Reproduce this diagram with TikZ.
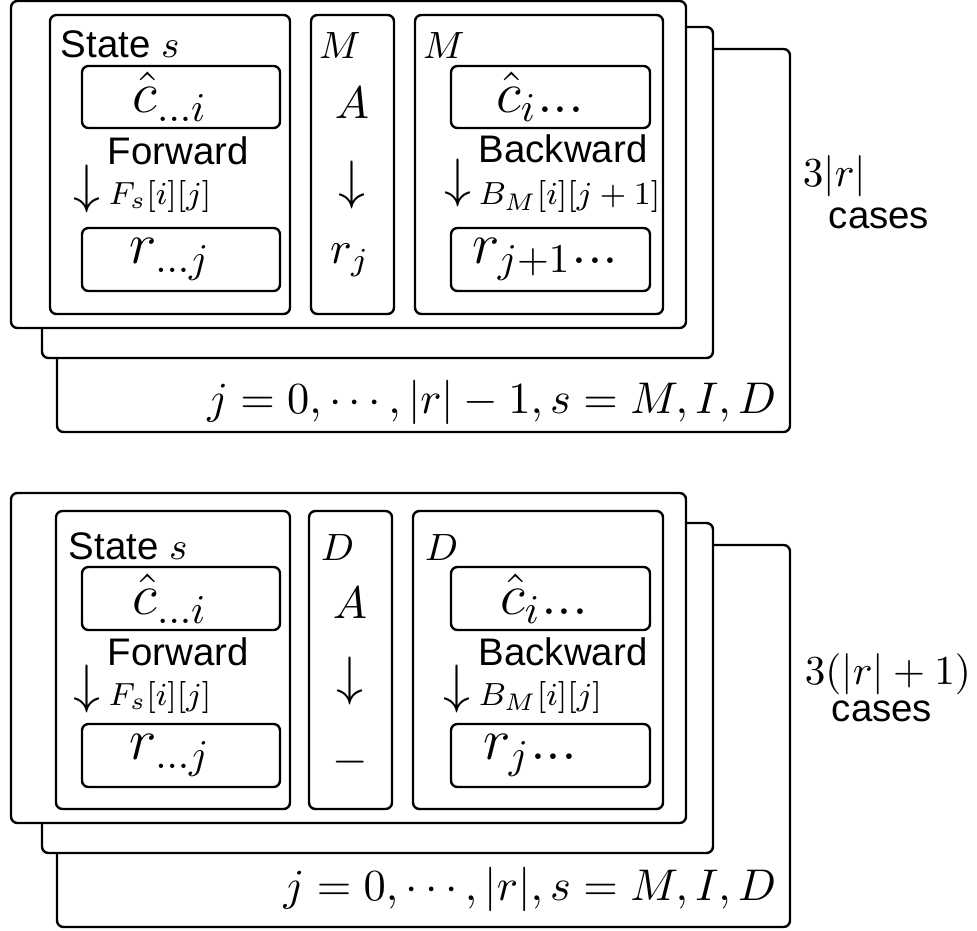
\RequirePackage{fix-cm}
\documentclass[tikz,border=0pt]{standalone}
\usepackage{fontspec}
\setsansfont{Liberation Sans}
\usetikzlibrary{fit}
\tikzset{
  panel/.style={draw, line width=0.6pt, rounded corners=1.6pt, fill=white, inner sep=0pt},
  sanslbl/.style={font=\fontsize{9.6}{11}\sffamily\selectfont, inner sep=0pt},
  boxmath/.style={font=\fontsize{14.6}{17}\selectfont, inner sep=0pt},
  midmath/.style={font=\fontsize{11.4}{13}\selectfont, inner sep=0pt},
  tagmath/.style={font=\fontsize{9.5}{11}\selectfont, inner sep=0pt},
  idxmath/.style={font=\fontsize{8}{10}\selectfont, inner sep=0pt},
  arrglyph/.style={font=\fontsize{13.5}{15}\selectfont, inner sep=0pt},
  rangemath/.style={font=\fontsize{11.1}{13}\selectfont, inner sep=0pt},
  countmath/.style={font=\fontsize{10.3}{12}\selectfont, inner sep=0pt},
}
\begin{document}
\begin{tikzpicture}[x=0.25pt, y=-0.25pt]
\useasboundingbox (0,0) rectangle (977,931);

% ---------------- top group ----------------
\node[panel, fit={(57,49) (790,432)}] (t3) {};
\node[panel, fit={(42,27) (713,358)}] (t2) {};
\node[panel, fit={(11,1) (686,328)}] (t1) {};
\node[panel, fit={(50,15) (290,314)}] (tstate) {};
\node[panel, fit={(311,15) (394,314)}] (tmid) {};
\node[panel, fit={(415,15) (663,314)}] (tback) {};
\node[panel, fit={(82,66) (280,128)}] (tfc) {};
\node[panel, fit={(82,228) (280,291)}] (tfr) {};
\node[panel, fit={(451,66) (650,128)}] (tbc) {};
\node[panel, fit={(451,228) (650,291)}] (tbr) {};

\node[boxmath] (tfct) at ([xshift=-2.75pt]tfc.center) {$\hat{c}_{...i}$};
\node[boxmath] (tfrt) at ([xshift=-2.75pt]tfr.center) {$r_{...j}$};
\node[boxmath] (tbct) at ([xshift=-2.5pt]tbc.center) {$\hat{c}_{i}...$};
\node[boxmath] (tbrt) at ([xshift=-1.25pt]tbr.center) {$r_{j+1}...$};

\node[sanslbl, anchor=base west] (tstl) at (60,57) {State $s$};
\node[sanslbl, anchor=base west] (tfw) at (107,165) {Forward};
\node[arrglyph] (tfa) at (87,189) {$\downarrow$};
\node[idxmath, anchor=west] (tfi) at (108,197) {$F_s[i][j]$};

\node[tagmath, anchor=base west] (tml) at (318,59) {$M$};
\node[midmath] (tma) at (352,103) {$A$};
\node[arrglyph] (tmarr) at (352,185) {$\downarrow$};
\node[midmath] (tmr) at (350,260) {$r_j$};

\node[tagmath, anchor=base west] (tbl) at (422,59) {$M$};
\node[sanslbl, anchor=base west] (tbw) at (478,163) {Backward};
\node[arrglyph] (tba) at (458,183) {$\downarrow$};
\node[idxmath, anchor=west] (tbi) at (478,197) {$B_M[i][j+1]$};

\node[rangemath, anchor=base east] (trange) at (777,413) {$j=0,\cdots,|r|-1,s=M,I,D$};
\node[countmath, anchor=base west] (tcnt) at (802,186) {$3|r|$};
\node[sanslbl, anchor=base west] (tcases) at (828,228) {cases};

% ---------------- bottom group ----------------
\node[panel, fit={(57,545) (790,927)}] (b3) {};
\node[panel, fit={(42,523) (713,853)}] (b2) {};
\node[panel, fit={(11,493) (686,823)}] (b1) {};
\node[panel, fit={(56,511) (290,809)}] (bstate) {};
\node[panel, fit={(309,511) (392,809)}] (bmid) {};
\node[panel, fit={(413,511) (663,809)}] (bback) {};
\node[panel, fit={(82,567) (280,630)}] (bfc) {};
\node[panel, fit={(82,724) (280,787)}] (bfr) {};
\node[panel, fit={(451,567) (650,630)}] (bbc) {};
\node[panel, fit={(451,724) (650,787)}] (bbr) {};

\node[boxmath] (bfct) at ([xshift=-2.75pt]bfc.center) {$\hat{c}_{...i}$};
\node[boxmath] (bfrt) at ([xshift=-2.75pt]bfr.center) {$r_{...j}$};
\node[boxmath] (bbct) at ([xshift=-1.5pt]bbc.center) {$\hat{c}_{i}...$};
\node[boxmath] (bbrt) at ([xshift=-5pt]bbr.center) {$r_{j}...$};

\node[sanslbl, anchor=base west] (bstl) at (68,559) {State $s$};
\node[sanslbl, anchor=base west] (bfw) at (107,665) {Forward};
\node[arrglyph] (bfa) at (87,689) {$\downarrow$};
\node[idxmath, anchor=west] (bfi) at (108,697) {$F_s[i][j]$};

\node[tagmath, anchor=base west] (bml) at (320,560) {$D$};
\node[midmath] (bma) at (350,603) {$A$};
\node[arrglyph] (bmarr) at (350,681) {$\downarrow$};
\node[midmath] (bmr) at (350,762) {$-$};

\node[tagmath, anchor=base west] (bbl) at (424,560) {$D$};
\node[sanslbl, anchor=base west] (bbw) at (478,665) {Backward};
\node[arrglyph] (bba) at (457,689) {$\downarrow$};
\node[idxmath, anchor=west] (bbi) at (478,697) {$B_M[i][j]$};

\node[rangemath, anchor=base east] (brange) at (777,900) {$j=0,\cdots,|r|,s=M,I,D$};
\node[countmath, anchor=base west] (bcnt) at (804,684) {$3(|r|+1)$};
\node[sanslbl, anchor=base west] (bcases) at (831,721) {cases};
\end{tikzpicture}
\end{document}
